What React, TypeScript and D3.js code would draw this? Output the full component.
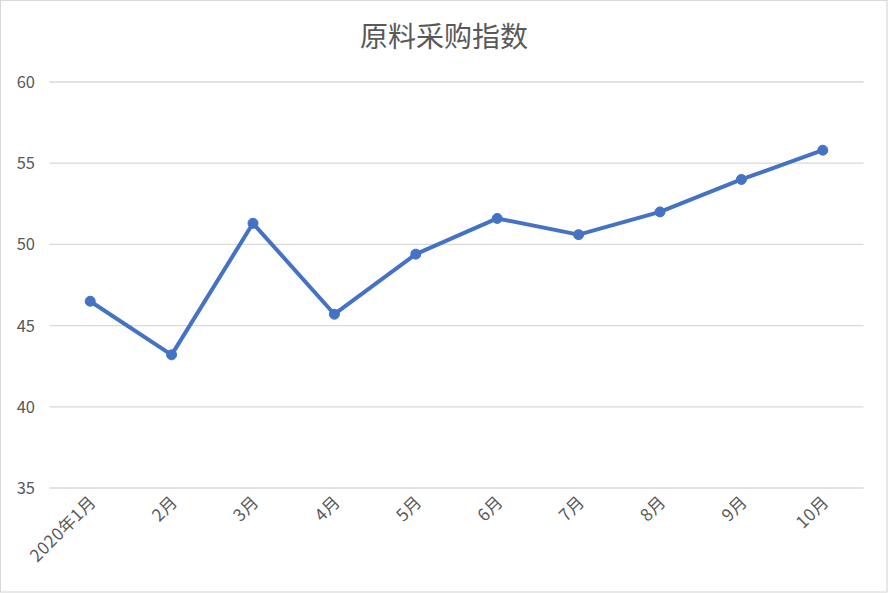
import React from "react";
import * as d3 from "d3";

const categories = ["2020年1月", "2月", "3月", "4月", "5月", "6月", "7月", "8月", "9月", "10月"];
const values = [46.5, 43.2, 51.3, 45.7, 49.4, 51.6, 50.6, 52.0, 54.0, 55.8];
const yTicks = [35, 40, 45, 50, 55, 60];
const title = "原料采购指数";

const W = 888;
const H = 593;
const left = 49.5;
const right = 863.5;
const top = 82;
const bottom = 488;
const FONT = "'Noto Sans CJK SC', 'Noto Sans', sans-serif";

export default function App() {
  const x = d3.scaleBand<string>().domain(categories).range([left, right]);
  const y = d3.scaleLinear().domain([35, 60]).range([bottom, top]);
  const cx = (c: string) => (x(c) as number) + x.bandwidth() / 2;
  const line = d3
    .line<number>()
    .x((_, i) => cx(categories[i]))
    .y((d) => y(d));

  return (
    <div style={{ position: "absolute", left: 0, top: 0 }}>
      <svg width={W} height={H} style={{ display: "block" }}>
        <rect x={0.5} y={0.5} width={W - 1.5} height={H - 1.5} fill="#fff" stroke="#d9d9d9" strokeWidth={1.2} />
        <text x={W / 2} y={47} textAnchor="middle" fontFamily={FONT} fontSize={28} fill="#595959">
          {title}
        </text>
        {yTicks.map((t) => (
          <g key={t}>
            <line x1={left} x2={right} y1={y(t)} y2={y(t)} stroke="#d9d9d9" strokeWidth={1.3} />
            <text x={35} y={y(t) + 6} textAnchor="end" fontFamily={FONT} fontSize={16.5} fill="#595959">
              {t}
            </text>
          </g>
        ))}
        {categories.map((c) => (
          <text
            key={c}
            transform={`translate(${cx(c) + 7},${503}) rotate(-45)`}
            textAnchor="end"
            fontFamily={FONT}
            fontSize={17}
            letterSpacing={0.5}
            fill="#595959"
          >
            {c}
          </text>
        ))}
        <path d={line(values) || ""} fill="none" stroke="#4472C4" strokeWidth={4} strokeLinejoin="round" strokeLinecap="round" />
        {values.map((v, i) => (
          <circle key={i} cx={cx(categories[i])} cy={y(v)} r={5} fill="#4472C4" stroke="#4472C4" />
        ))}
      </svg>
    </div>
  );
}
